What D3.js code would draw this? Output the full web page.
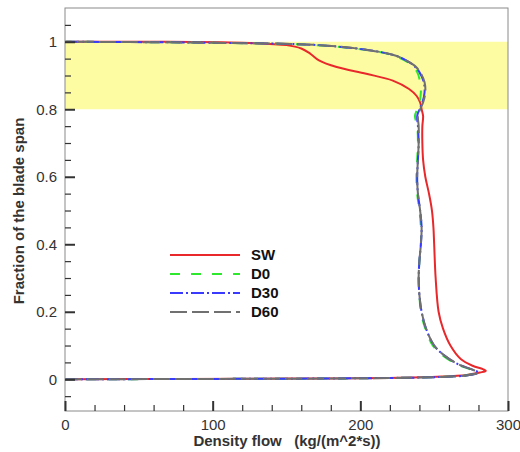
<!DOCTYPE html>
<html>
<head>
<meta charset="utf-8">
<script src="https://cdn.jsdelivr.net/npm/d3@7"></script>
<style>
  body { margin: 0; background: #fff; }
  text { font-family: "Liberation Sans", Arial, sans-serif; }
</style>
</head>
<body>
<div id="wrapper"></div>
<script>
// span fraction (y) and density flow (x) for every curve
const swSpan = [0, 0.001, 0.002, 0.004, 0.008, 0.013, 0.02, 0.025, 0.03, 0.04, 0.06, 0.1, 0.15, 0.2, 0.3, 0.4, 0.45, 0.5, 0.55, 0.6, 0.65, 0.7, 0.75, 0.78, 0.8, 0.82, 0.84, 0.86, 0.885, 0.905, 0.925, 0.945, 0.965, 0.98, 0.99, 0.997, 1.0, 1.0];
const swFlow = [0, 80, 150, 220, 255, 272, 281, 285, 283, 276, 268, 261, 256, 253, 251, 250, 249.5, 248.5, 246.5, 244, 242.5, 242, 242, 242.5, 241.5, 240.5, 238, 233, 222, 204, 184, 172, 166, 160, 150, 120, 60, 0];

const d0Span = [0, 0.001, 0.003, 0.007, 0.012, 0.02, 0.03, 0.045, 0.07, 0.1, 0.15, 0.2, 0.25, 0.3, 0.35, 0.4, 0.45, 0.5, 0.55, 0.6, 0.65, 0.7, 0.75, 0.78, 0.8, 0.82, 0.85, 0.88, 0.91, 0.93, 0.945, 0.96, 0.975, 0.99, 0.997, 1.0];
const d0Flow = [0, 100, 200, 255, 272, 279, 274, 265, 256, 249, 244, 241, 240, 239.5, 240, 241, 241, 240, 238.5, 238, 238.5, 239, 238.5, 237, 238.5, 240, 241, 240.5, 238.5, 235, 230, 222, 205, 170, 100, 0];

const d30Span = [0, 0.001, 0.003, 0.007, 0.012, 0.02, 0.03, 0.045, 0.07, 0.1, 0.15, 0.2, 0.25, 0.3, 0.35, 0.4, 0.45, 0.5, 0.55, 0.6, 0.65, 0.7, 0.75, 0.78, 0.8, 0.82, 0.85, 0.88, 0.91, 0.93, 0.945, 0.96, 0.975, 0.99, 0.997, 1.0];
const d30Flow = [0, 100, 200, 256, 273, 280, 275, 266, 257, 250, 244.5, 241.5, 240, 239.5, 240, 241, 241.5, 240.5, 239, 238.5, 239, 239.5, 239, 238.5, 240, 242, 243.5, 243, 240, 236, 231, 223, 206, 172, 100, 0];

const d60Span = [0, 0.001, 0.003, 0.007, 0.012, 0.02, 0.03, 0.045, 0.07, 0.1, 0.15, 0.2, 0.25, 0.3, 0.35, 0.4, 0.45, 0.5, 0.55, 0.6, 0.65, 0.7, 0.75, 0.78, 0.8, 0.82, 0.85, 0.88, 0.91, 0.93, 0.945, 0.96, 0.975, 0.99, 0.997, 1.0];
const d60Flow = [0, 100, 200, 256, 273, 280, 275, 266, 257, 250, 244.5, 241.5, 240, 239.5, 240, 241, 241.5, 240.5, 239, 238.5, 239, 239.5, 239.5, 239, 240.5, 242.5, 244, 243.5, 240.5, 236.5, 231, 223, 206, 172, 100, 0];

const seriesNames = ["SW", "D0", "D30", "D60"];
const seriesColors = ["#e8282b", "#2ee82e", "#3a3aff", "#707070"];
const seriesDashes = [null, "10,11", "13,3,2,3", "17,5"];

const highlightBand = [0.8, 1.0];
const xMajorTicks = [0, 100, 200, 300];
const yMajorTicks = [0, 0.2, 0.4, 0.6, 0.8, 1];

const series = [
  { span: swSpan, flow: swFlow },
  { span: d0Span, flow: d0Flow },
  { span: d30Span, flow: d30Flow },
  { span: d60Span, flow: d60Flow }
].map((s, i) => ({
  name: seriesNames[i],
  color: seriesColors[i],
  dash: seriesDashes[i],
  points: s.span.map((y, j) => ({ x: s.flow[j], y: y }))
}));

let dimensions = {
  width: 520,
  height: 452,
  margin: { top: 8, right: 12, bottom: 41, left: 65 }
};
dimensions.boundedWidth = dimensions.width - dimensions.margin.left - dimensions.margin.right;
dimensions.boundedHeight = dimensions.height - dimensions.margin.top - dimensions.margin.bottom;

const wrapper = d3.select("#wrapper")
  .append("svg")
  .attr("width", dimensions.width)
  .attr("height", dimensions.height);

const bounds = wrapper.append("g")
  .attr("transform", `translate(${dimensions.margin.left},${dimensions.margin.top})`);

const xScale = d3.scaleLinear()
  .domain([0, 300])
  .range([0, dimensions.boundedWidth]);
const yScale = d3.scaleLinear()
  .domain([-0.094, 1.1])
  .range([dimensions.boundedHeight, 0]);

// yellow band
bounds.append("rect")
  .attr("x", 0)
  .attr("y", yScale(highlightBand[1]))
  .attr("width", dimensions.boundedWidth)
  .attr("height", yScale(highlightBand[0]) - yScale(highlightBand[1]))
  .attr("fill", "#fefca3");

// curves
const lineGen = d3.line()
  .x(d => xScale(d.x))
  .y(d => yScale(d.y))
  .curve(d3.curveCatmullRom.alpha(0.5));

bounds.selectAll(".curve")
  .data(series)
  .enter()
  .append("path")
  .attr("class", "curve")
  .attr("d", d => lineGen(d.points))
  .attr("fill", "none")
  .attr("stroke", d => d.color)
  .attr("stroke-width", 2)
  .attr("stroke-dasharray", d => d.dash);

// frame
bounds.append("rect")
  .attr("width", dimensions.boundedWidth)
  .attr("height", dimensions.boundedHeight)
  .attr("fill", "none")
  .attr("stroke", "#8a8a8a")
  .attr("stroke-width", 1);

// axes, ticks pointing inward
const styleAxis = g => {
  g.select(".domain").remove();
  g.selectAll("line").attr("stroke", "#333").attr("stroke-width", 1.2);
  g.selectAll("text")
    .attr("fill", "#333")
    .style("font-size", "15px");
};

const xMinor = d3.range(0, 301, 20).filter(v => v % 100 !== 0);
bounds.append("g")
  .attr("transform", `translate(0,${dimensions.boundedHeight})`)
  .call(d3.axisBottom(xScale).tickValues(xMinor).tickSize(-6).tickFormat(""))
  .call(styleAxis);
bounds.append("g")
  .attr("transform", `translate(0,${dimensions.boundedHeight})`)
  .call(d3.axisBottom(xScale).tickValues(xMajorTicks).tickSize(-10).tickPadding(8).tickFormat(d3.format("d")))
  .call(styleAxis)
  .call(g => g.selectAll("line").attr("stroke-width", 2));

const yMinor = d3.range(-0.05, 1.06, 0.05).map(v => +v.toFixed(2)).filter(v => Math.abs(v * 5 - Math.round(v * 5)) > 1e-6);
bounds.append("g")
  .call(d3.axisLeft(yScale).tickValues(yMinor).tickSize(-6).tickFormat(""))
  .call(styleAxis);
bounds.append("g")
  .call(d3.axisLeft(yScale).tickValues(yMajorTicks).tickSize(-10).tickPadding(8).tickFormat(d => d3.format("")(+d.toFixed(1))))
  .call(styleAxis)
  .call(g => g.selectAll("line").attr("stroke-width", 2));

// axis titles
wrapper.append("text")
  .attr("x", 287)
  .attr("y", 446)
  .attr("text-anchor", "middle")
  .attr("font-weight", "bold")
  .attr("fill", "#333")
  .style("font-size", "15px")
  .style("white-space", "pre")
  .text("Density flow   (kg/(m^2*s))");

wrapper.append("text")
  .attr("transform", "translate(24,211) rotate(-90)")
  .attr("text-anchor", "middle")
  .attr("font-weight", "bold")
  .attr("fill", "#333")
  .style("font-size", "15px")
  .text("Fraction of the blade span");

// legend
const legend = wrapper.append("g").attr("transform", "translate(170,255)");
const legendRows = legend.selectAll("g")
  .data(series)
  .enter()
  .append("g")
  .attr("transform", (d, i) => `translate(0,${i * 19})`);
legendRows.append("line")
  .attr("x1", 0)
  .attr("x2", 70)
  .attr("stroke", d => d.color)
  .attr("stroke-width", 2)
  .attr("stroke-dasharray", d => d.dash);
legendRows.append("text")
  .attr("x", 81)
  .attr("dy", "0.35em")
  .attr("font-weight", "bold")
  .attr("fill", "#111")
  .style("font-size", "15px")
  .text(d => d.name);
</script>
</body>
</html>
